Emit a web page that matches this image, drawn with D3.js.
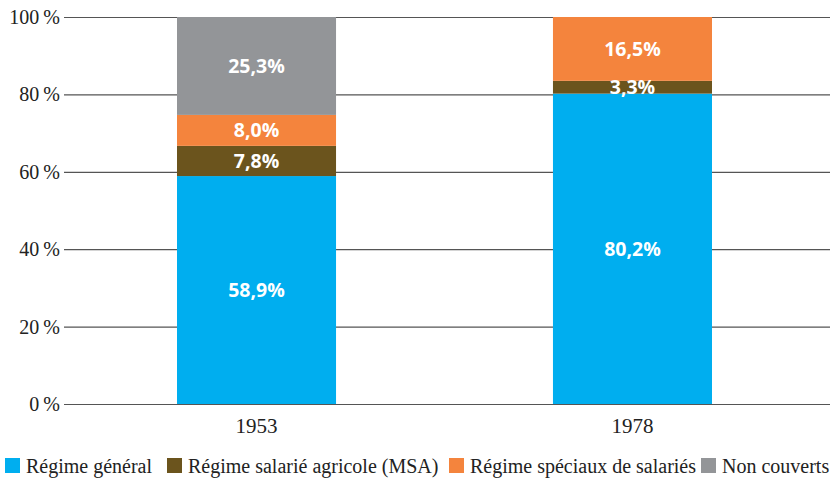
<!DOCTYPE html>
<html>
<head>
<meta charset="utf-8">
<script src="https://cdn.jsdelivr.net/npm/d3@7"></script>
<style>
  body { margin: 0; background: #fff; }
</style>
</head>
<body>
<svg id="chart"></svg>
<script>
// Data
const years = ["1953", "1978"];
const series = ["Régime général", "Régime salarié agricole (MSA)", "Régime spéciaux de salariés", "Non couverts"];
const colors = ["#00aeef", "#6b541d", "#f4843d", "#939598"];
const general = [58.9, 80.2];
const msa = [7.8, 3.3];
const speciaux = [8.0, 16.5];
const nonCouverts = [25.3, 0];
const yTicks = [0, 20, 40, 60, 80, 100];

const serif = '"Liberation Serif", "Times New Roman", serif';

const width = 835, height = 478;
const margin = { top: 17, right: 5, bottom: 74, left: 64 };

const svg = d3.select('#chart')
    .attr('width', width)
    .attr('height', height);

const chart = svg.append('g')
    .attr('transform', `translate(${margin.left},${margin.top})`);

const innerW = width - margin.left - margin.right;
const innerH = height - margin.top - margin.bottom;

// band placement: first bar starts at 113, centers 376 apart
const xScale = d3.scaleBand()
    .domain(years)
    .range([113, 648])
    .paddingInner(0.577)
    .paddingOuter(0);

const yScale = d3.scaleLinear()
    .domain([0, 100])
    .range([innerH, 0]);

// Gridlines / y axis
const yAxis = d3.axisLeft(yScale)
    .tickValues(yTicks)
    .tickSize(-innerW)
    .tickPadding(4)
    .tickFormat(d => d + '\u2009%');

const yAxisG = chart.append('g').call(yAxis);
yAxisG.attr('font-family', serif);
yAxisG.select('.domain').remove();
yAxisG.selectAll('.tick line').attr('stroke', '#555').attr('stroke-width', 1.2);
yAxisG.selectAll('.tick text')
    .attr('font-family', serif)
    .attr('font-size', 20)
    .attr('fill', '#222');

// stacked table
const table = years.map((y, i) => ({
    year: y,
    [series[0]]: general[i],
    [series[1]]: msa[i],
    [series[2]]: speciaux[i],
    [series[3]]: nonCouverts[i]
}));
const stacked = d3.stack().keys(series)(table);

const layers = chart.selectAll('.layer')
    .data(stacked)
    .join('g')
    .attr('fill', (d, i) => colors[i]);

layers.selectAll('rect')
    .data(d => d.map(v => ({ v, year: v.data.year })))
    .join('rect')
    .attr('x', d => xScale(d.year))
    .attr('width', xScale.bandwidth())
    .attr('y', d => yScale(d.v[1]))
    .attr('height', d => yScale(d.v[0]) - yScale(d.v[1]));

// value labels
stacked.forEach(layer => {
    layer.forEach(v => {
        const val = v[1] - v[0];
        if (val <= 0) return;
        chart.append('text')
            .attr('x', xScale(v.data.year) + xScale.bandwidth() / 2)
            .attr('y', (yScale(v[0]) + yScale(v[1])) / 2)
            .attr('dy', '0.36em')
            .attr('text-anchor', 'middle')
            .attr('font-family', '"Open Sans", sans-serif')
            .attr('font-weight', 'bold')
            .attr('font-size', 19.5)
            .attr('fill', '#fff')
            .text(val.toFixed(1).replace('.', ',') + '%');
    });
});

// x axis labels
const xAxis = d3.axisBottom(xScale).tickSize(0).tickPadding(14);
const xAxisG = chart.append('g')
    .attr('transform', `translate(0,${innerH})`)
    .call(xAxis);
xAxisG.select('.domain').remove();
xAxisG.selectAll('.tick text')
    .attr('font-family', serif)
    .attr('font-size', 21)
    .attr('fill', '#222');

// legend
const legendX = [5, 167, 449, 701];
const legend = svg.append('g').attr('transform', 'translate(0,458)');
series.forEach((s, i) => {
    legend.append('rect')
        .attr('x', legendX[i]).attr('y', 0)
        .attr('width', 15).attr('height', 15)
        .attr('fill', colors[i]);
    legend.append('text')
        .attr('x', legendX[i] + 21).attr('y', 15)
        .attr('font-family', serif)
        .attr('font-size', 20)
        .attr('fill', '#222')
        .text(s);
});
</script>
</body>
</html>
